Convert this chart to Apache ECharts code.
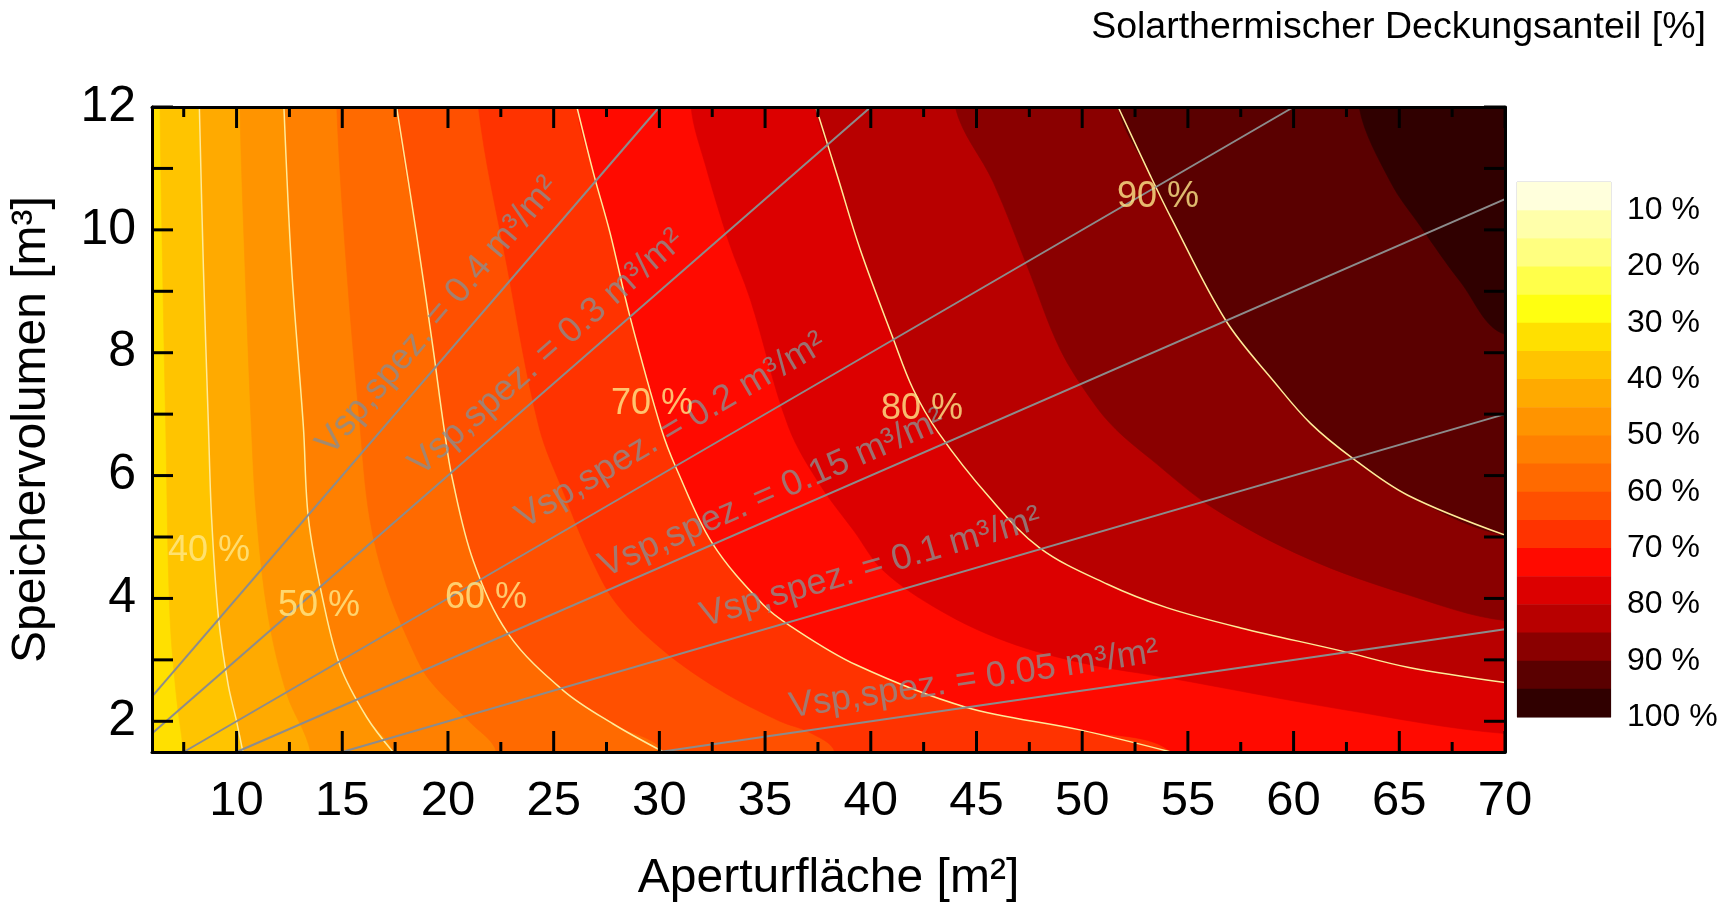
<!DOCTYPE html>
<html>
<head>
<meta charset="utf-8">
<script src="https://cdn.jsdelivr.net/npm/echarts@6/dist/echarts.min.js"></script>
<style>
  html, body { margin: 0; padding: 0; background: #fff; }
  #container { width: 1725px; height: 908px; }
</style>
</head>
<body>
<div id="container"></div>
<script>
var FONT = 'Liberation Sans, Arial, sans-serif';

// axis ticks
var xMajorTicks = [10, 15, 20, 25, 30, 35, 40, 45, 50, 55, 60, 65, 70];
var xMinorTicks = [7.5, 12.5, 17.5, 22.5, 27.5, 32.5, 37.5, 42.5, 47.5, 52.5, 57.5, 62.5, 67.5];
var yTicks = [2, 3, 4, 5, 6, 7, 8, 9, 10, 11, 12];
var yLabels = [2, 4, 6, 8, 10, 12];
var barTicks = [10, 20, 30, 40, 50, 60, 70, 80, 90, 100];

// colour scale: bands of 5 % from 5 % to 100 %
var bandStarts = [5, 10, 15, 20, 25, 30, 35, 40, 45, 50, 55, 60, 65, 70, 75, 80, 85, 90, 95];
var bandColors = ['#FFFFDC', '#FFFFAA', '#FFFF80', '#FFFF4A', '#FFFF10', '#FFE000', '#FFC400',
                  '#FFAA00', '#FF9400', '#FF8000', '#FF6A00', '#FF5000', '#FF3300', '#FF0A00',
                  '#DC0000', '#B80000', '#8A0000', '#5A0000', '#300000'];

// contour boundaries [Aperturfläche, Speichervolumen], top -> bottom/right
var c35 = [[6.38, 12], [6.5, 9.4], [6.65, 6.8], [6.85, 3.7], [7.17, 2.35], [7.47, 1.5]];
var c40 = [[8.24, 12], [8.43, 9.4], [8.67, 6.8], [8.82, 5.3], [9.14, 3.7], [9.6, 2.6], [10.0, 2.0], [10.3, 1.5]];
var c45 = [[10.16, 12], [10.4, 9.4], [10.7, 6.8], [10.95, 5.3], [11.5, 3.7], [12.37, 2.45], [13.5, 1.5]];
var c50 = [[12.24, 12], [12.6, 9.4], [13.16, 6.8], [13.4, 5.3], [14.1, 3.95], [14.9, 2.9], [16.15, 2.07], [17.4, 1.5]];
var c55 = [[14.74, 12], [15.2, 9.4], [15.84, 6.8], [16.3, 5.3], [17.1, 4.2], [18.35, 3.15], [19.15, 2.66], [21.0, 2.0], [22.3, 1.5]];
var c60 = [[17.57, 12], [18.5, 9.96], [19.3, 8.06], [19.8, 6.8], [20.2, 5.96], [21.2, 4.61], [22.86, 3.42], [25.46, 2.5], [27.8, 1.96], [30.2, 1.5]];
var c65 = [[21.44, 12], [22.8, 9.4], [24.3, 6.8], [25.5, 5.7], [26.7, 4.7], [28.0, 3.9], [30.2, 3.15], [32.9, 2.5], [35.7, 2.0], [37.1, 1.82], [38.3, 1.5]];
var c70 = [[26.1, 12], [26.9, 10.9], [27.66, 9.96], [28.6, 8.6], [30.1, 6.75], [30.8, 6.12], [32.5, 4.9], [34.9, 3.9], [36.2, 3.55], [39.3, 2.92], [44.5, 2.23], [49.9, 1.86], [54.2, 1.5]];
var c75 = [[31.5, 12], [32.2, 11.03], [33.3, 9.79], [34.3, 8.87], [36.1, 6.8], [37.6, 5.85], [39.2, 5.1], [40.6, 4.45], [43.3, 3.8], [46.4, 3.3], [50, 2.95], [54.2, 2.7], [62.2, 2.2], [70, 1.8]];
var c80 = [[37.4, 12], [38.4, 10.9], [39.5, 9.68], [41.07, 8.22], [42.0, 7.41], [43.2, 6.7], [45.6, 5.65], [48.0, 4.82], [51.2, 4.23], [54.0, 3.85], [57.5, 3.52], [62.2, 3.15], [65.4, 2.88], [70, 2.63]];
var c85 = [[44.0, 12], [45.8, 10.77], [47.4, 9.41], [48.95, 8.06], [50.5, 7.2], [51.6, 6.75], [53.2, 6.28], [56.2, 5.47], [60.6, 4.66], [65.4, 4.06], [70, 3.64]];
var c90 = [[51.7, 12], [53.2, 10.9], [54.2, 10.2], [56.8, 8.52], [59.1, 7.52], [60.8, 6.85], [62.8, 6.28], [65.4, 5.68], [70, 5.03]];
var c95 = [[63.1, 12], [64.6, 10.77], [66, 10.06], [67.9, 9.15], [70, 8.3]];

var fillLevels = [35, 40, 45, 50, 55, 60, 65, 70, 75, 80, 85, 90, 95];
var fillContours = [c35, c40, c45, c50, c55, c60, c65, c70, c75, c80, c85, c90, c95];
var lineLevels = [40, 50, 60, 70, 80, 90];
var lineContours = [c40, c50, c60, c70, c80, c90];
var lineLabelPos = [[8.7, 4.77], [13.9, 3.88], [21.8, 4.01], [29.65, 7.17], [42.42, 7.09], [53.59, 10.54]];

// specific storage volume lines
var specNames = ['0.4', '0.3', '0.2', '0.15', '0.1', '0.05'];
var specStart = [[6, 2.4], [6, 1.8], [7.5, 1.5], [10, 1.5], [15, 1.5], [30, 1.5]];
var specEnd = [[30, 12], [40, 12], [60, 12], [70, 10.5], [70, 7], [70, 3.5]];
var specLabelPos = [[19.53, 8.6], [24.68, 8.0], [30.55, 6.73], [35.33, 5.71], [40.0, 4.5], [44.88, 2.68]];
var specLabelRot = [49.5, 41.3, 30.5, 23.6, 16.3, 8.6];

var X_MIN = 6, X_MAX = 70, Y_MIN = 1.5, Y_MAX = 12;
var SMOOTH = 0.35;

var myChart = echarts.init(document.getElementById('container'));

function closeRegion(pts) {
    // higher values lie to the upper right of a contour; close the region
    // outside the plot and let the clip path cut it
    var first = pts[0], last = pts[pts.length - 1];
    var poly = [[first[0], Y_MAX + 1.5]].concat(pts);
    if (last[1] <= Y_MIN + 1e-6) {
        poly.push([last[0], Y_MIN - 1]);
        poly.push([X_MAX + 6, Y_MIN - 1]);
    } else {
        poly.push([X_MAX + 6, last[1]]);
    }
    poly.push([X_MAX + 6, Y_MAX + 1.5]);
    return poly;
}

function plotClip(params) {
    var cs = params.coordSys;
    return { type: 'rect', shape: { x: cs.x, y: cs.y, width: cs.width, height: cs.height } };
}

function frameAxis(pos, extra) {
    var ax = {
        type: 'value',
        gridIndex: 0,
        position: pos,
        z: 10,
        axisLine: { show: true, onZero: false, lineStyle: { color: '#000', width: 3 } },
        axisTick: { show: false },
        axisLabel: { show: false },
        splitLine: { show: false }
    };
    if (pos === 'top' || pos === 'bottom') { ax.min = X_MIN; ax.max = X_MAX; }
    else { ax.min = Y_MIN; ax.max = Y_MAX; }
    return Object.assign(ax, extra || {});
}

// inward tick marks placed through the axis scales, on both sides of the frame
function tickSeries(values, vertical, len) {
    return {
        type: 'custom',
        xAxisIndex: 0,
        yAxisIndex: 0,
        z: 20,
        silent: true,
        data: values.map(function (v) { return vertical ? [X_MIN + 1, v] : [v, Y_MIN + 1]; }),
        renderItem: function (params, api) {
            var cs = params.coordSys;
            var p = api.coord([api.value(0), api.value(1)]);
            var st = { stroke: '#000', lineWidth: 3 };
            var a, b;
            if (vertical) {
                a = { x1: cs.x, y1: p[1], x2: cs.x + len, y2: p[1] };
                b = { x1: cs.x + cs.width, y1: p[1], x2: cs.x + cs.width - len, y2: p[1] };
            } else {
                a = { x1: p[0], y1: cs.y + cs.height, x2: p[0], y2: cs.y + cs.height - len };
                b = { x1: p[0], y1: cs.y, x2: p[0], y2: cs.y + len };
            }
            return {
                type: 'group',
                children: [
                    { type: 'line', shape: a, style: st },
                    { type: 'line', shape: b, style: st }
                ]
            };
        }
    };
}

var series = [];

// filled bands
series.push({
    type: 'custom',
    xAxisIndex: 0,
    yAxisIndex: 0,
    z: 1,
    data: fillLevels.map(function (l, i) { return [fillContours[i][0][0], fillContours[i][0][1], l]; }),
    renderItem: function (params, api) {
        var i = params.dataIndex;
        var col = bandColors[bandStarts.indexOf(fillLevels[i])];
        var pts = closeRegion(fillContours[i]).map(function (p) { return api.coord(p); });
        return {
            type: 'group',
            clipPath: plotClip(params),
            children: [{
                type: 'polygon',
                shape: { points: pts, smooth: SMOOTH },
                style: { fill: col, stroke: col, lineWidth: 0.6 }
            }]
        };
    }
});

// contour lines 40 ... 90 %
series.push({
    type: 'custom',
    xAxisIndex: 0,
    yAxisIndex: 0,
    z: 3,
    data: lineLevels.map(function (l, i) { return [lineContours[i][0][0], lineContours[i][0][1], l]; }),
    renderItem: function (params, api) {
        var pts = lineContours[params.dataIndex].map(function (p) { return api.coord(p); });
        return {
            type: 'group',
            clipPath: plotClip(params),
            children: [{
                type: 'polyline',
                shape: { points: pts, smooth: SMOOTH },
                style: { fill: null, stroke: '#FFEB99', lineWidth: 1.5 }
            }]
        };
    }
});

specNames.forEach(function (n, i) {
    series.push({
        type: 'line',
        name: n,
        xAxisIndex: 0,
        yAxisIndex: 0,
        z: 4,
        data: [specStart[i], specEnd[i]],
        symbol: 'none',
        lineStyle: { color: '#8C8C8C', width: 2 }
    });
});

series.push({
    type: 'scatter',
    xAxisIndex: 0,
    yAxisIndex: 0,
    z: 5,
    symbolSize: 0,
    data: specLabelPos.map(function (p, i) {
        return {
            value: p,
            label: {
                show: true,
                position: 'inside',
                rotate: specLabelRot[i],
                formatter: 'Vsp,spez. = ' + specNames[i] + ' m³/m²',
                color: '#8C8C8C',
                fontSize: 36,
                fontFamily: FONT
            }
        };
    })
});

series.push({
    type: 'scatter',
    xAxisIndex: 0,
    yAxisIndex: 0,
    z: 6,
    symbolSize: 0,
    data: lineLabelPos.map(function (p, i) {
        return {
            value: p,
            label: {
                show: true,
                position: 'inside',
                formatter: lineLevels[i] + ' %',
                color: '#FFE98A',
                fontSize: 36,
                fontFamily: FONT
            }
        };
    })
});

series.push(tickSeries(xMajorTicks, false, 21));
series.push(tickSeries(xMinorTicks, false, 10));
series.push(tickSeries(yTicks, true, 21));

// colour bar
series.push({
    type: 'custom',
    xAxisIndex: 2,
    yAxisIndex: 2,
    data: bandStarts.map(function (v, i) { return [0, v, i]; }),
    renderItem: function (params, api) {
        var v = api.value(1);
        var p0 = api.coord([0, v]);
        var p1 = api.coord([1, v + 5]);
        var col = bandColors[api.value(2)];
        return {
            type: 'rect',
            shape: { x: p0[0], y: Math.min(p0[1], p1[1]), width: p1[0] - p0[0], height: Math.abs(p1[1] - p0[1]) + 0.5 },
            style: { fill: col }
        };
    }
});

option = {
    animation: false,
    backgroundColor: '#fff',
    title: {
        text: 'Solarthermischer Deckungsanteil [%]',
        right: 14,
        top: 4,
        textStyle: { fontSize: 37.5, fontWeight: 'normal', color: '#000', fontFamily: FONT }
    },
    grid: [
        { left: 152, top: 107, width: 1353, height: 648, show: true, backgroundColor: bandColors[5], borderWidth: 0 },
        { left: 1517, top: 182, width: 94, height: 535, show: true, borderColor: '#d0d0d0', borderWidth: 1 }
    ],
    xAxis: [
        frameAxis('bottom', {
            name: 'Aperturfläche [m²]',
            nameLocation: 'middle',
            nameGap: 103,
            nameTextStyle: { fontSize: 48, color: '#000', fontFamily: FONT },
            axisLabel: { show: true, customValues: xMajorTicks, fontSize: 49, color: '#000', margin: 25, fontFamily: FONT }
        }),
        frameAxis('top'),
        { type: 'value', gridIndex: 1, min: 0, max: 1, show: false }
    ],
    yAxis: [
        frameAxis('left', {
            name: 'Speichervolumen [m³]',
            nameLocation: 'middle',
            nameGap: 96,
            nameRotate: 90,
            nameTextStyle: { fontSize: 48, color: '#000', fontFamily: FONT },
            axisLabel: { show: true, customValues: yLabels, fontSize: 50, color: '#000', margin: 16, fontFamily: FONT }
        }),
        frameAxis('right'),
        {
            type: 'value',
            gridIndex: 1,
            position: 'right',
            min: 5,
            max: 100,
            inverse: true,
            axisLine: { show: false },
            axisTick: { show: false },
            splitLine: { show: false },
            axisLabel: {
                customValues: barTicks,
                formatter: '{value} %',
                fontSize: 32,
                color: '#000',
                margin: 16,
                fontFamily: FONT
            }
        }
    ],
    series: series
};

myChart.setOption(option, true);
</script>
</body>
</html>
